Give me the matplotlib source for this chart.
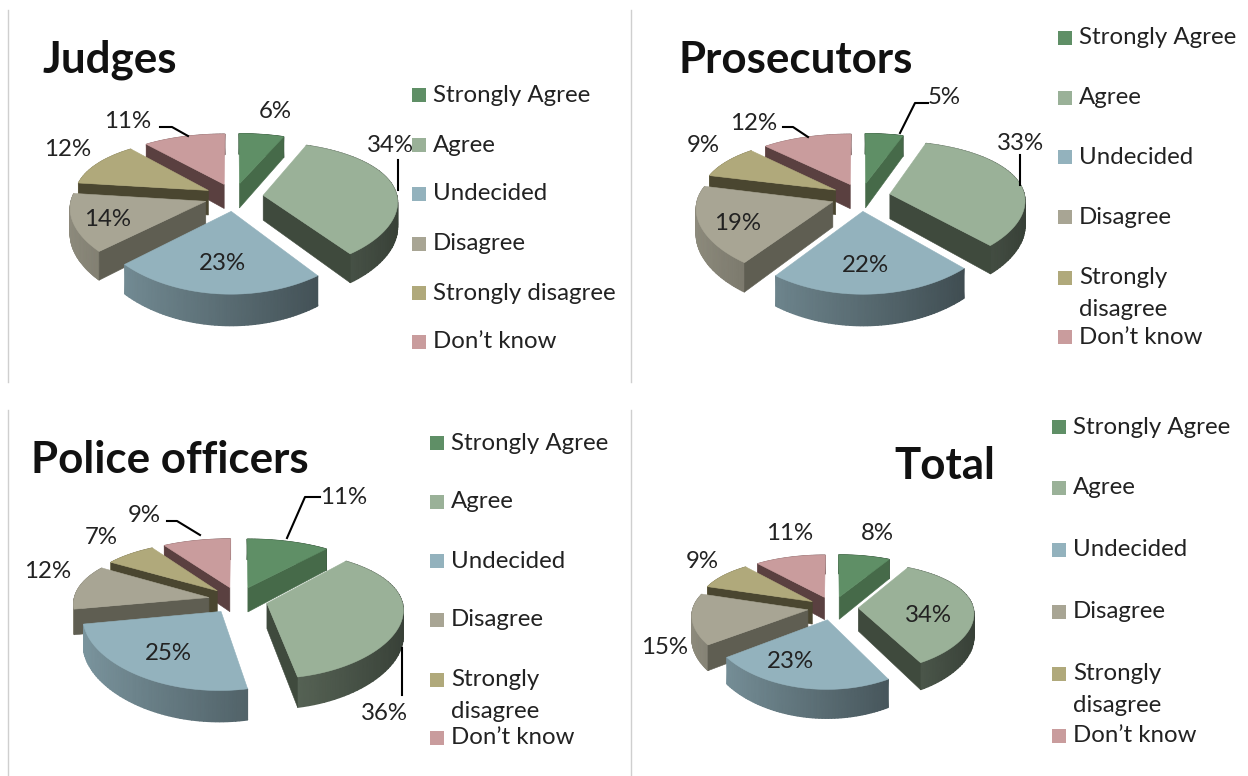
import numpy as np
import matplotlib
matplotlib.use('Agg')
import matplotlib.pyplot as plt
from matplotlib.colors import LinearSegmentedColormap

categories = ['Strongly Agree', 'Agree', 'Undecided', 'Disagree', 'Strongly disagree', "Don\u2019t know"]
judges = [6, 34, 23, 14, 12, 11]
prosecutors = [5, 33, 22, 19, 9, 12]
police = [11, 36, 25, 12, 7, 9]
total = [8, 34, 23, 15, 9, 11]

colors = ['#5f8f66', '#9ab198', '#93b2bd', '#a8a594', '#b0a97b', '#c99c9d']
# colour of the cut faces of each slice
face_colors = ['#466a49', '#3f4a3d', '#3f4e55', '#5f5e52', '#4a4630', '#5a4040']

plt.rcParams['font.family'] = ['Lato', 'DejaVu Sans']
fig = plt.figure(figsize=(12.48, 7.76), dpi=100)
ax = fig.add_axes([0, 0, 1, 1])
ax.set_xlim(0, 1248)
ax.set_ylim(776, 0)
ax.set_autoscale_on(False)
ax.axis('off')

EXPLODE = 0.22
PERSP = 0.172
PERSP_X = 0.09
LEG_FS = 17.3
TITLE_FS = 31.6


def project(u, v, cx, cy, rx, ry, depth):
    w = 1 - PERSP * v
    x = cx + rx * u / (1 - PERSP_X * v)
    y = cy + ry * v / w
    return x, y, y + depth / w


def cut_face(x0, y0, y02, xe, ye, ye2, xm, ym, color, z):
    # only faces that have the slice behind them can be seen
    if abs(xe - x0) < 1:
        return
    line_y = y0 + (ye - y0) * (xm - x0) / (xe - x0)
    if ym < line_y:
        ax.fill([x0, xe, xe, x0], [y0, ye, ye2, y02], facecolor=color, edgecolor=color, lw=0.4, zorder=z)


def pie3d(values, cx, cy, rx, ry, depth):
    values = np.array(values, dtype=float)
    edges = np.concatenate([[0], np.cumsum(values)]) / values.sum() * 2 * np.pi
    mids = (edges[:-1] + edges[1:]) / 2
    # back slices are painted first
    z = 2
    for i in np.argsort(-np.cos(mids)):
        ou = EXPLODE * np.sin(mids[i])
        ov = -EXPLODE * np.cos(mids[i])
        th = np.linspace(edges[i], edges[i + 1], 60)
        u = ou + np.sin(th)
        v = ov - np.cos(th)
        x, y, y2 = project(u, v, cx, cy, rx, ry, depth)
        x0, y0, y02 = project(ou, ov, cx, cy, rx, ry, depth)
        # rim goes from lighter on the left to dark on the right
        cmap = LinearSegmentedColormap.from_list('rim', ['black', colors[i]])
        f = 0.60 - 0.24 * np.sin(th)
        ax.pcolormesh(np.vstack([x, x]), np.vstack([y, y2]), np.vstack([f, f]),
                      shading='gouraud', cmap=cmap, vmin=0, vmax=1, zorder=z)
        cut_face(x0, y0, y02, x[0], y[0], y2[0], x[30], y[30], face_colors[i], z + 0.1)
        cut_face(x0, y0, y02, x[-1], y[-1], y2[-1], x[30], y[30], face_colors[i], z + 0.1)
        ax.fill(np.r_[x0, x], np.r_[y0, y], facecolor=colors[i], edgecolor=colors[i], lw=0.4, zorder=z + 0.2)
        z += 1


def legend(x, rows):
    for (label, y) in rows:
        color = colors[categories.index(label)]
        if isinstance(y, tuple):
            ax.fill([x, x + 14, x + 14, x], [y[0] - 7, y[0] - 7, y[0] + 7, y[0] + 7], color=color, lw=0)
            ax.text(x + 21, y[0], 'Strongly', fontsize=LEG_FS, va='center', color='#222222')
            ax.text(x + 21, y[1], 'disagree', fontsize=LEG_FS, va='center', color='#222222')
        else:
            ax.fill([x, x + 14, x + 14, x], [y - 7, y - 7, y + 7, y + 7], color=color, lw=0)
            ax.text(x + 21, y, label, fontsize=LEG_FS, va='center', color='#222222')


def labels(values, positions):
    for val, (x, y) in zip(values, positions):
        ax.text(x, y, f'{val}%', fontsize=LEG_FS, ha='center', va='center', color='#222222', zorder=20)


for x, y0, y1 in [(8, 10, 382), (631, 10, 382), (8, 410, 776), (631, 410, 776)]:
    ax.plot([x, x], [y0, y1], color='#cfcfcf', lw=1)

pie3d(judges, 234, 197, 134, 63, 25)
pie3d(prosecutors, 861, 197, 135, 63, 25)
pie3d(police, 238, 600, 135, 61, 25)
pie3d(total, 833, 608, 115, 53, 23)

ax.text(42, 60, 'Judges', fontsize=TITLE_FS, fontweight='bold', va='center', color='#111111')
ax.text(678, 60, 'Prosecutors', fontsize=TITLE_FS, fontweight='bold', va='center', color='#111111')
ax.text(31, 460, 'Police officers', fontsize=TITLE_FS, fontweight='bold', va='center', color='#111111')
ax.text(894, 466, 'Total', fontsize=TITLE_FS, fontweight='bold', va='center', color='#111111')

legend(412, list(zip(categories, [95, 145, 194, 244, 293, 342])))
legend(1058, list(zip(categories, [38, 98, 157, 217, (278, 309), 337])))
legend(430, list(zip(categories, [443, 502, 561, 620, (680, 712), 738])))
legend(1052, list(zip(categories, [427, 488, 550, 612, (674, 706), 736])))

labels(judges, [(275, 111), (390, 145), (222, 263), (108, 219), (68, 149), (128, 121)])
labels(prosecutors, [(944, 97), (1021, 144), (865, 265), (738, 224), (703, 145), (754, 124)])
labels(police, [(344, 497), (384, 714), (168, 654), (48, 572), (101, 537), (144, 516)])
labels(total, [(877, 534), (928, 615), (790, 661), (665, 648), (702, 561), (790, 534)])

# leader lines
leaders = [
    ([160, 172, 188], [127, 127, 136]),
    ([398, 398], [160, 190]),
    ([928, 915, 900], [103, 103, 133]),
    ([1020, 1020], [155, 185]),
    ([783, 793, 808], [127, 127, 137]),
    ([320, 305, 287], [497, 497, 538]),
    ([167, 177, 200], [521, 521, 535]),
    ([402, 402], [648, 695]),
]
for lx, ly in leaders:
    ax.plot(lx, ly, color='black', lw=1.5, zorder=20)

fig.savefig('out.png', dpi=100)
